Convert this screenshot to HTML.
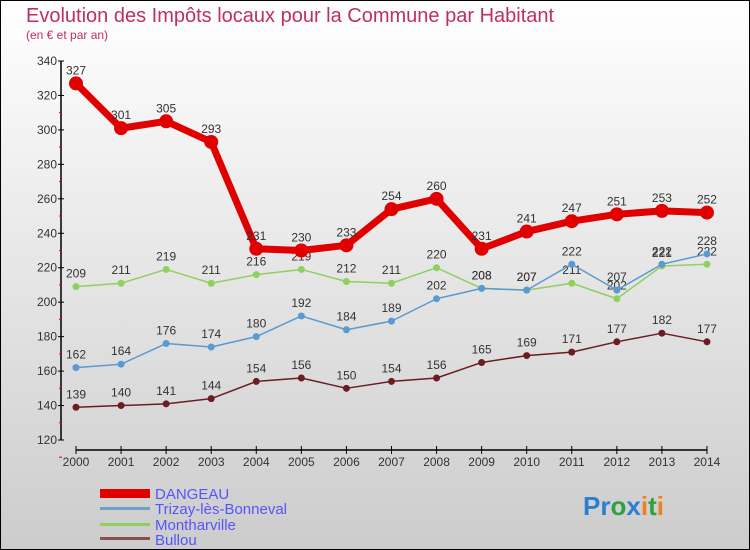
<!DOCTYPE html>
<html><head><meta charset="utf-8"><style>
body{margin:0;width:750px;height:550px;overflow:hidden}
svg{display:block;font-family:"Liberation Sans",sans-serif}
</style></head><body>
<svg id="chart" width="750" height="550" viewBox="0 0 750 550" xmlns="http://www.w3.org/2000/svg">
<defs><linearGradient id="bg" x1="0" y1="0" x2="0" y2="1"><stop offset="0" stop-color="#ffffff"/><stop offset="1" stop-color="#cccccc"/></linearGradient></defs>
<rect x="0.5" y="0.5" width="749" height="549" fill="url(#bg)" stroke="#000" stroke-width="1"/>
<text x="26" y="22" font-size="20" fill="#c0305a">Evolution des Impôts locaux pour la Commune par Habitant</text>
<text x="26" y="39" font-size="12" fill="#c0305a">(en € et par an)</text>
<g id="axes"></g>
<g id="series"></g>
<g>
<rect x="100" y="489" width="50" height="9" fill="#e00000"/>
<text x="155" y="499" font-size="15" fill="#5555ff">DANGEAU</text>
<rect x="100" y="507" width="50" height="3" fill="#6fa0c8"/>
<text x="155" y="514" font-size="15" fill="#5555ff">Trizay-lès-Bonneval</text>
<rect x="100" y="523" width="50" height="3" fill="#90d060"/>
<text x="155" y="530" font-size="15" fill="#5555ff">Montharville</text>
<rect x="100" y="537" width="50" height="3" fill="#8a5050"/>
<text x="155" y="545" font-size="15" fill="#5555ff">Bullou</text>
</g>
<text x="583" y="515" font-size="26" font-weight="bold"><tspan fill="#2a7fd0">Pr</tspan><tspan fill="#30a040">o</tspan><tspan fill="#2a7fd0">x</tspan><tspan fill="#f08020">i</tspan><tspan fill="#30a040">t</tspan><tspan fill="#f08020">i</tspan></text>
</svg>
<script>
const years=[2000,2001,2002,2003,2004,2005,2006,2007,2008,2009,2010,2011,2012,2013,2014];
const yTicks=[120,140,160,180,200,220,240,260,280,300,320,340];
const dangeau=[327,301,305,293,231,230,233,254,260,231,241,247,251,253,252];
const trizay=[162,164,176,174,180,192,184,189,202,208,207,222,207,222,228];
const montharville=[209,211,219,211,216,219,212,211,220,208,207,211,202,221,222];
const bullou=[139,140,141,144,154,156,150,154,156,165,169,171,177,182,177];
const NS="http://www.w3.org/2000/svg";
function xs(i){return 76+i*45.07;}
function ys(v){return 440-(v-120)*379/220;}
function mk(tag,attrs,parent){const e=document.createElementNS(NS,tag);for(const k in attrs)e.setAttribute(k,attrs[k]);parent.appendChild(e);return e;}
const ax=document.getElementById('axes');
let yl=mk('line',{x1:61,y1:61,x2:61,y2:440,stroke:'#000','stroke-width':1.5},ax);


yTicks.forEach(v=>{
 const y=ys(v);
 const t=mk('line',{x1:58,y1:y,x2:64,y2:y,stroke:'#000'},ax);
 
 
 const m=mk('line',{x1:59,y1:y+17.2,x2:62,y2:y+17.2,stroke:'#e00000'},ax);
 if(v===340)m.setAttribute('visibility','hidden');
 
 
 const l=mk('text',{x:57,y:y+4,'text-anchor':'end','font-size':12,fill:'#333'},ax);
 l.textContent=v;
 
 
});
let xl=mk('line',{x1:xs(0),y1:450,x2:xs(years.length-1),y2:450,stroke:'#000','stroke-width':1.5},ax);


years.forEach((yr,i)=>{
 const t=mk('line',{x1:xs(i),y1:446,x2:xs(i),y2:454,stroke:'#000'},ax);
 
 
 const l=mk('text',{x:xs(i),y:466,'text-anchor':'middle','font-size':12,fill:'#333'},ax);
 l.textContent=yr;
 
 
});
const sg=document.getElementById('series');
function series(name,data,color,w,r,labels){
 const g=mk('g',{},sg);
 
 
 const p=mk('polyline',{points:data.map((v,i)=>xs(i)+','+ys(v)).join(' '),fill:'none',stroke:color,'stroke-width':w,'stroke-linejoin':'round'},g);
 
 
 data.forEach((v,i)=>{
  const c=mk('circle',{cx:xs(i),cy:ys(v),r:r,fill:color},g);
  
  
  if(labels){
   const t=mk('text',{x:xs(i),y:ys(v)-9,'text-anchor':'middle','font-size':12,fill:'#333'},g);
   t.textContent=v;
   
   
  }
 });
}
series('bullou',bullou,'#6a1e22',1.5,3.5,true);
series('montharville',montharville,'#90d060',1.5,3.5,true);
series('trizay',trizay,'#5a9ad0',1.5,3.5,true);
series('dangeau',dangeau,'#e00000',7,7,true);
</script>
</body></html>
